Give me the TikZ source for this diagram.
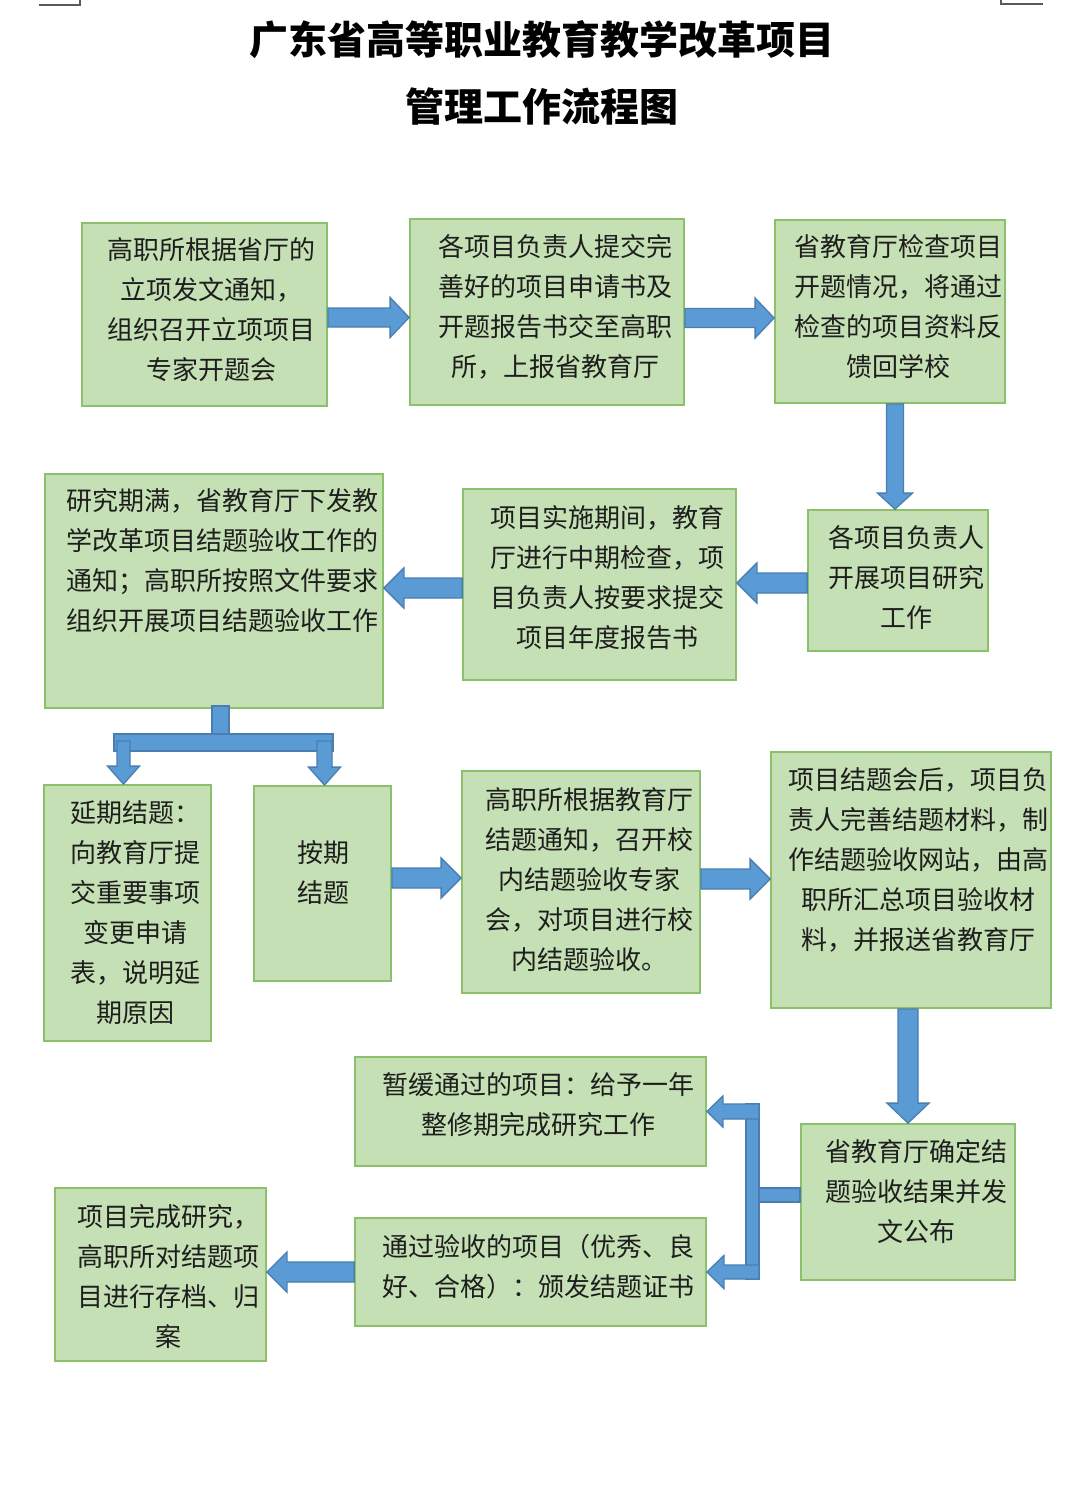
\documentclass[tikz,border=0pt]{standalone}
\usepackage{fontspec}
\newfontfamily\cjk{Noto Sans CJK SC}
\usetikzlibrary{calc}
\definecolor{boxfill}{HTML}{C5E0B4}
\definecolor{boxline}{HTML}{8DC06B}
\definecolor{arrfill}{HTML}{5B9BD5}
\definecolor{arrline}{HTML}{4A7EB0}
\definecolor{textcol}{HTML}{1E1E1E}
\newcommand\bodyfont{\cjk\fontsize{26pt}{40pt}\selectfont}
\newcommand\titlefont{\cjk\bfseries\fontsize{39pt}{48pt}\selectfont}
% horizontal block arrow: #1 from, #2 to (tip), #3 shaft half, #4 head half, #5 head length
\newcommand\hbarrow[5]{%
  \draw[barr] let \p1=(#1), \p2=(#2), \n1={ifthenelse(\x2>\x1,1,-1)}, \n2={\x2-(\n1)*#5pt} in
    (\x1,\y1+#3pt) -- (\n2,\y1+#3pt) -- (\n2,\y1+#4pt) -- (\x2,\y1)
    -- (\n2,\y1-#4pt) -- (\n2,\y1-#3pt) -- (\x1,\y1-#3pt) -- cycle;}
% vertical block arrow
\newcommand\vbarrow[5]{%
  \draw[barr] let \p1=(#1), \p2=(#2), \n1={ifthenelse(\y2>\y1,1,-1)}, \n2={\y2-(\n1)*#5pt} in
    (\x1+#3pt,\y1) -- (\x1+#3pt,\n2) -- (\x1+#4pt,\n2) -- (\x1,\y2)
    -- (\x1-#4pt,\n2) -- (\x1-#3pt,\n2) -- (\x1-#3pt,\y1) -- cycle;}
\begin{document}
\begin{tikzpicture}[x=1pt,y=-1pt,
  box/.style={rectangle, draw=boxline, fill=boxfill, line width=1.8pt, inner sep=0pt},
  txt/.style={align=center, font=\bodyfont, text=textcol, inner sep=0pt},
  ttl/.style={font=\titlefont, text=black, inner sep=0pt},
  barr/.style={fill=arrfill, draw=arrline, line width=1.3pt, line join=miter},
  cropmark/.style={draw=black!65, line width=1.5pt}]
\useasboundingbox (0,0) rectangle (1080,1498);
\fill[white] (0,0) rectangle (1080,1498);
\draw[cropmark] (39,5) -- (80,5) -- (80,0);
\draw[cropmark] (1001,0) -- (1001,4) -- (1043,4);

% title
\node[ttl] (t1) at (541.5,40) {广东省高等职业教育教学改革项目};
\node[ttl] (t2) at (541.5,107) {管理工作流程图};

% boxes
\node[box, minimum width=245pt, minimum height=183pt] (A) at (204.5,314.5) {};
\node[txt] (At) at (211,310) {高职所根据省厅的\\立项发文通知，\\组织召开立项项目\\专家开题会};

\node[box, minimum width=274pt, minimum height=186pt] (B) at (547,312) {};
\node[txt] (Bt) at (555,307) {各项目负责人提交完\\善好的项目申请书及\\开题报告书交至高职\\所，上报省教育厅};

\node[box, minimum width=230pt, minimum height=183pt] (C) at (890,311.5) {};
\node[txt] (Ct) at (898,307) {省教育厅检查项目\\开题情况，将通过\\检查的项目资料反\\馈回学校};

\node[box, minimum width=180pt, minimum height=141pt] (D) at (898,580.5) {};
\node[txt] (Dt) at (906,577) {各项目负责人\\开展项目研究\\工作};

\node[box, minimum width=273pt, minimum height=191pt] (E) at (599.5,584.5) {};
\node[txt] (Et) at (607,578) {项目实施期间，教育\\厅进行中期检查，项\\目负责人按要求提交\\项目年度报告书};

\node[box, minimum width=338pt, minimum height=234pt] (F) at (214,591) {};
\node[txt] (Ft) at (222,561) {研究期满，省教育厅下发教\\学改革项目结题验收工作的\\通知；高职所按照文件要求\\组织开展项目结题验收工作};

\node[box, minimum width=167pt, minimum height=256pt] (G) at (127.5,913) {};
\node[txt] (Gt) at (135,913) {延期结题：\\向教育厅提\\交重要事项\\变更申请\\表，说明延\\期原因};

\node[box, minimum width=137pt, minimum height=195pt] (H) at (322.5,883.5) {};
\node[txt] (Ht) at (323,873) {按期\\结题};

\node[box, minimum width=238pt, minimum height=222pt] (I) at (581,882) {};
\node[txt] (It) at (589,880) {高职所根据教育厅\\结题通知，召开校\\内结题验收专家\\会，对项目进行校\\内结题验收。};

\node[box, minimum width=280pt, minimum height=256pt] (J) at (911,880) {};
\node[txt] (Jt) at (918,860) {项目结题会后，项目负\\责人完善结题材料，制\\作结题验收网站，由高\\职所汇总项目验收材\\料，并报送省教育厅};

\node[box, minimum width=214pt, minimum height=156pt] (K) at (908,1202) {};
\node[txt] (Kt) at (916,1192) {省教育厅确定结\\题验收结果并发\\文公布};

\node[box, minimum width=351pt, minimum height=109pt] (L) at (530.5,1111.5) {};
\node[txt] (Lt) at (538.5,1105) {暂缓通过的项目：给予一年\\整修期完成研究工作};

\node[box, minimum width=351pt, minimum height=108pt] (M) at (530.5,1272) {};
\node[txt] (Mt) at (538,1267) {通过验收的项目（优秀、良\\好、合格）：颁发结题证书};

\node[box, minimum width=211pt, minimum height=173pt] (N) at (160.5,1274.5) {};
\node[txt] (Nt) at (168,1276) {项目完成研究，\\高职所对结题项\\目进行存档、归\\案};

% arrows
\hbarrow{[yshift=-3pt]A.east}{B.west}{9.5}{20}{19}
\hbarrow{[yshift=-6pt]B.east}{C.west}{9.5}{20}{19}
\coordinate (dN) at ([xshift=-3pt]D.north);
\vbarrow{C.south -| dN}{dN}{8.5}{17.5}{16}
\hbarrow{[yshift=-2.5pt]D.west}{E.east}{10}{20}{20}
\hbarrow{[yshift=-3.5pt]E.west}{F.east}{10}{20}{20}

% fork below F
\coordinate (fk) at ([xshift=6.5pt]F.south);
\coordinate (gL) at ([xshift=-4pt]G.north);
\coordinate (hR) at ([xshift=2pt]H.north);
\coordinate (fb) at ([yshift=-32pt]fk);
\draw[barr] let \p1=(fk) in (\x1-8.5pt,\y1+3pt) rectangle (\x1+8.5pt,\y1-25pt);
\draw[barr] let \p1=(gL), \p2=(hR), \p3=(fk) in (\x1-9.5pt,\y3-25pt) rectangle (\x2+8.5pt,\y3-42pt);
\vbarrow{fb -| gL}{gL}{6.5}{16}{18}
\vbarrow{fb -| hR}{hR}{7.5}{16}{18}

\hbarrow{[yshift=5.5pt]H.east}{I.west}{10}{20}{20}
\hbarrow{[yshift=3pt]I.east}{J.west}{10}{20}{20}
\vbarrow{J.south -| K.north}{K.north}{10}{21}{20}

% bracket from K
\coordinate (kj) at ([xshift=-41pt,yshift=7pt]K.west);
\draw[barr] let \p1=(kj), \p2=(L.east), \p3=(M.east) in (\x1-13pt,\y2+7.5pt) rectangle (\x1,\y3-7pt);
\hbarrow{kj |- L.east}{L.east}{7.5}{15.5}{16}
\hbarrow{kj |- M.east}{M.east}{7}{16.5}{17}
\draw[barr] let \p1=(K.west), \p2=(kj) in (\x2,\y2+7pt) rectangle (\x1,\y2-7pt);

\hbarrow{M.west}{N.east}{10}{20}{20}
\end{tikzpicture}
\end{document}
